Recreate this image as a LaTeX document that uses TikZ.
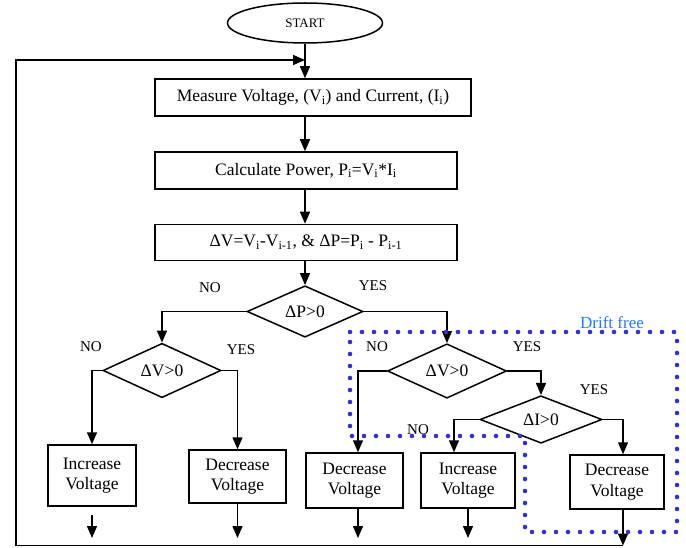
\documentclass[tikz,border=0pt]{standalone}
\usepackage{fontspec}
\setmainfont{Liberation Serif}
\usetikzlibrary{shapes.geometric,arrows.meta}
\definecolor{dotblue}{HTML}{3333D0}
\definecolor{labelblue}{HTML}{2A7BE4}
\begin{document}
\begin{tikzpicture}[x=1pt,y=-1pt,
  line width=1.5pt,
  box/.style={draw,rectangle,inner sep=0pt,font=\fontsize{17.5}{20.5}\selectfont,align=center},
  dec/.style={draw,diamond,inner sep=0pt,font=\fontsize{17.5}{20.5}\selectfont},
  lab/.style={font=\fontsize{15}{18}\selectfont,inner sep=0pt},
  arr/.style={-{Triangle[length=12pt,width=10pt]}},
  drift/.style={draw=dotblue,line width=4.6pt,line cap=round,dash pattern=on 0pt off 12pt}]
\useasboundingbox[fill=white] (0,0) rectangle (686,548);

% nodes
\node[draw,ellipse,minimum width=155pt,minimum height=40pt,inner sep=0pt,font=\fontsize{13}{15}\selectfont] (start) at (305,23) {START};
\node[box,minimum width=316pt,minimum height=37pt] (meas) at (313,97.5) {Measure Voltage, (V\textsubscript{i}) and Current, (I\textsubscript{i})};
\node[box,minimum width=302pt,minimum height=37pt] (calc) at (306,170.5) {Calculate Power, P\textsubscript{i}=V\textsubscript{i}*I\textsubscript{i}};
\node[box,minimum width=302pt,minimum height=36pt] (diff) at (306,242.5) {ΔV=V\textsubscript{i}-V\textsubscript{i-1}, \& ΔP=P\textsubscript{i} - P\textsubscript{i-1}};

\node[dec,minimum width=116pt,minimum height=48pt] (dp) at (305,311.5) {ΔP>0};
\node[dec,minimum width=118pt,minimum height=47pt] (dvl) at (162,370.5) {ΔV>0};
\node[dec,minimum width=119pt,minimum height=46pt] (dvr) at (447,371) {ΔV>0};
\node[dec,minimum width=122pt,minimum height=46pt] (di) at (541,419.5) {ΔI>0};

\node[box,minimum width=88pt,minimum height=61pt] (inc1) at (92,475.5) {Increase\\Voltage};
\node[box,minimum width=97pt,minimum height=53pt] (dec1) at (237.5,476.5) {Decrease\\Voltage};
\node[box,minimum width=97pt,minimum height=55pt] (dec2) at (354.5,480.5) {Decrease\\Voltage};
\node[box,minimum width=94pt,minimum height=55pt] (inc2) at (468,480.5) {Increase\\Voltage};
\node[box,minimum width=94pt,minimum height=54pt] (dec4) at (617,482) {Decrease\\Voltage};

% labels
\node[lab] (l1) at (210,288) {NO};
\node[lab] (l2) at (373,285.5) {YES};
\node[lab] (l3) at (91,347) {NO};
\node[lab] (l4) at (241,350) {YES};
\node[lab] (l5) at (377,347) {NO};
\node[lab] (l6) at (527,346.5) {YES};
\node[lab] (l7) at (594,389.5) {YES};
\node[lab] (l8) at (418,430) {NO};
\node[font=\fontsize{17}{20}\selectfont,text=labelblue,inner sep=0pt] (drift) at (612,323) {Drift free};

% helper coordinates
\coordinate (bot) at (0,538);
\coordinate (base) at (0,545.5);
\coordinate (bl) at (16,545.5);
\coordinate (tl) at (16,60);
\coordinate (c2) at ([xshift=3.5pt]dec2.south);
\coordinate (c2t) at ([xshift=3.5pt]dec2.north);
\coordinate (i2t) at ([xshift=-14pt]inc2.north);
\coordinate (c4) at ([xshift=6pt]dec4.south);
\coordinate (c4t) at ([xshift=6pt]dec4.north);

% main spine
\draw[arr] (start.south) -- (start.south |- meas.north);
\draw[arr] (meas.south -| start) -- (calc.north -| start);
\draw[arr] (calc.south -| start) -- (diff.north -| start);
\draw[arr] (diff.south -| start) -- (dp.north);

% branches
\draw[arr] (dp.west) -| (dvl.north);
\draw[arr] (dp.east) -| (dvr.north);
\draw[arr] (dvl.west) -| (inc1.north);
\draw[arr] (dvl.east) -| (dec1.north);
\draw[arr] (dvr.west) -| (c2t);
\draw[arr] (dvr.east) -| (di.north);
\draw[arr] (di.west) -| (i2t);
\draw[arr] (di.east) -| (c4t);

% outputs
\draw[arr] ([yshift=-8pt]inc1.south) -- (inc1.south |- bot);
\draw[arr] (dec1.south) -- (dec1.south |- bot);
\draw[arr] (c2) -- (c2 |- bot);
\draw[arr] (inc2.south) -- (inc2.south |- bot);
\draw[arr] (c4) -- (c4 |- base);

% feedback loop
\draw[arr] (c4 |- base) -- (bl) -- (tl) -- (start |- tl);

% drift free region
\draw[drift] (350,332) -- (677,332) -- (677,532) -- (525,532) -- (525,436) -- (350,436) -- cycle;
\end{tikzpicture}
\end{document}
